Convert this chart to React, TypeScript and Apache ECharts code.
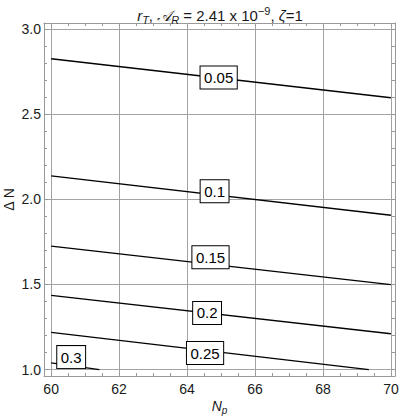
import React, { useEffect, useRef } from "react";
import * as echarts from "echarts";

// Contour levels and their line end points (Np, ΔN)
const levels = ["0.05", "0.1", "0.15", "0.2", "0.25", "0.3"];
const lineNp = [
  [60, 70],
  [60, 70],
  [60, 70],
  [60, 70],
  [60, 69.35],
  [60, 61.42],
];
const lineDN = [
  [2.825, 2.596],
  [2.137, 1.906],
  [1.725, 1.498],
  [1.435, 1.21],
  [1.218, 1.0],
  [1.039, 1.0],
];
// Contour label positions
const labelNp = [64.93, 64.81, 64.69, 64.59, 64.53, 60.59];
const labelDN = [2.715, 2.047, 1.659, 1.332, 1.097, 1.073];

// Ticks
const xMajor = [60, 62, 64, 66, 68, 70];
const xMinor = [60, 60.5, 61, 61.5, 62, 62.5, 63, 63.5, 64, 64.5, 65, 65.5, 66, 66.5, 67, 67.5, 68, 68.5, 69, 69.5, 70];
const yMajor = [1.0, 1.5, 2.0, 2.5, 3.0];
const yMinor = [1.0, 1.1, 1.2, 1.3, 1.4, 1.5, 1.6, 1.7, 1.8, 1.9, 2.0, 2.1, 2.2, 2.3, 2.4, 2.5, 2.6, 2.7, 2.8, 2.9, 3.0];

const X_MIN = 59.79;
const X_MAX = 70.12;
const Y_MIN = 0.962;
const Y_MAX = 3.035;

const FONT = "'Liberation Sans', Arial, 'DejaVu Sans', sans-serif";
const FRAME = "#999999";
const GRID = "#a3a3a3";
const TEXT = "#1a1a1a";

export default function App() {
  const ref = useRef<HTMLDivElement>(null);
  useEffect(() => {
    if (!ref.current) return;
    const chart = echarts.init(ref.current, null, { renderer: "svg" });

    const lineSeries = levels.map((lv, i) => ({
      type: "line",
      name: lv,
      xAxisIndex: 0,
      yAxisIndex: 0,
      data: lineNp[i].map((x, j) => [x, lineDN[i][j]]),
      showSymbol: false,
      lineStyle: { color: "#000", width: 1.3 },
      z: 3,
    }));

    const labelSeries = {
      type: "scatter",
      xAxisIndex: 0,
      yAxisIndex: 0,
      symbolSize: 1,
      itemStyle: { color: "#fff", opacity: 1 },
      z: 5,
      data: levels.map((lv, i) => ({ value: [labelNp[i], labelDN[i]], name: lv })),
      label: {
        show: true,
        position: "inside",
        formatter: (p: any) => p.name,
        fontFamily: FONT,
        fontSize: 15,
        fontWeight: "normal",
        color: "#000",
        opacity: 1,
        backgroundColor: "#fff",
        borderColor: "#000",
        borderWidth: 1,
        padding: [4, 3.5, 3, 3.5],
      },
    };

    const minorTick = (len: number) => ({
      show: true,
      inside: true,
      length: len,
      lineStyle: { color: FRAME, width: 1 },
    });

    const base = { fontFamily: FONT, color: TEXT, fontWeight: "normal" };

    const option: any = {
      animation: false,
      title: {
        left: 215,
        top: 0,
        textAlign: "center",
        text: "{i|r}{sub|T}{n|, }{i|𝒜}{sub|R}{n| = 2.41 x 10}{sup|−9}{n|, }{i|ζ}{n|=1}",
        textStyle: {
          fontWeight: "normal",
          rich: {
            n: { ...base, fontSize: 15, lineHeight: 20 },
            i: { ...base, fontSize: 15, fontStyle: "italic", lineHeight: 20 },
            sub: { ...base, fontSize: 11, fontStyle: "italic", lineHeight: 13, verticalAlign: "bottom" },
            sup: { ...base, fontSize: 11, lineHeight: 14, verticalAlign: "top" },
          },
        },
      },
      grid: { left: 44, right: 6, top: 23, bottom: 43, containLabel: false, outerBoundsMode: "none" },
      xAxis: [
        {
          type: "value",
          min: X_MIN,
          max: X_MAX,
          position: "bottom",
          name: "{i|N}{s|p}",
          nameLocation: "middle",
          nameGap: 21,
          nameMoveOverlap: false,
          nameTextStyle: {
            rich: {
              i: { ...base, fontSize: 14, fontStyle: "italic", lineHeight: 18 },
              s: { ...base, fontSize: 10, fontStyle: "italic", lineHeight: 12, verticalAlign: "bottom" },
            },
          },
          axisLine: { show: true, onZero: false, lineStyle: { color: FRAME, width: 1 } },
          axisTick: { show: true, inside: true, length: 4, customValues: xMajor, lineStyle: { color: FRAME } },
          axisLabel: {
            customValues: xMajor,
            margin: 6,
            fontFamily: FONT,
            fontSize: 14,
            color: TEXT,
            formatter: (v: number) => String(v),
          },
          splitLine: { show: true, lineStyle: { color: GRID, width: 1 } },
        },
        {
          type: "value",
          min: X_MIN,
          max: X_MAX,
          position: "bottom",
          axisLine: { show: false, onZero: false },
          axisTick: { ...minorTick(3), customValues: xMinor },
          axisLabel: { show: false },
          splitLine: { show: false },
        },
        {
          type: "value",
          min: X_MIN,
          max: X_MAX,
          position: "top",
          axisLine: { show: true, onZero: false, lineStyle: { color: FRAME, width: 1 } },
          axisTick: { ...minorTick(3), customValues: xMinor },
          axisLabel: { show: false },
          splitLine: { show: false },
        },
      ],
      yAxis: [
        {
          type: "value",
          min: Y_MIN,
          max: Y_MAX,
          position: "left",
          name: "Δ N",
          nameLocation: "middle",
          nameRotate: 90,
          nameGap: 27,
          nameMoveOverlap: false,
          nameTextStyle: { ...base, fontSize: 14, lineHeight: 16 },
          axisLine: { show: true, onZero: false, lineStyle: { color: FRAME, width: 1 } },
          axisTick: { show: true, inside: true, length: 4, customValues: yMajor, lineStyle: { color: FRAME } },
          axisLabel: {
            customValues: yMajor,
            margin: 3,
            fontFamily: FONT,
            fontSize: 14,
            color: TEXT,
            formatter: (v: number) => v.toFixed(1),
          },
          splitLine: { show: true, lineStyle: { color: GRID, width: 1 } },
        },
        {
          type: "value",
          min: Y_MIN,
          max: Y_MAX,
          position: "left",
          axisLine: { show: false, onZero: false },
          axisTick: { ...minorTick(3), customValues: yMinor },
          axisLabel: { show: false },
          splitLine: { show: false },
        },
        {
          type: "value",
          min: Y_MIN,
          max: Y_MAX,
          position: "right",
          axisLine: { show: true, onZero: false, lineStyle: { color: FRAME, width: 1 } },
          axisTick: { ...minorTick(3), customValues: yMinor },
          axisLabel: { show: false },
          splitLine: { show: false },
        },
      ],
      series: [...lineSeries, labelSeries],
    };

    chart.setOption(option);
    return () => chart.dispose();
  }, []);

  return (
    <div
      ref={ref}
      style={{ position: "fixed", left: 0, top: 0, width: 401, height: 419, background: "#fff" }}
    />
  );
}
